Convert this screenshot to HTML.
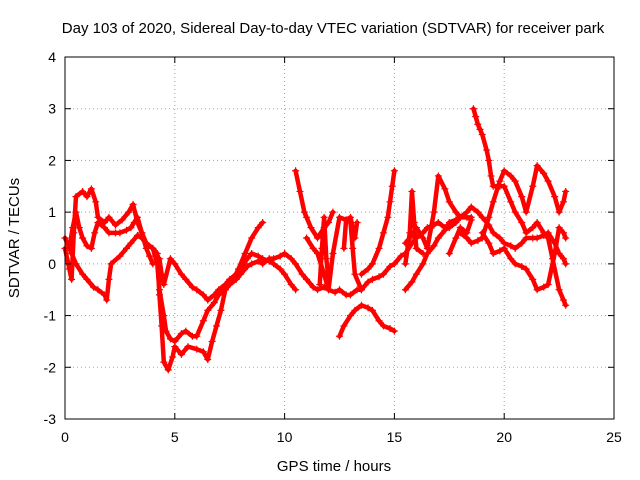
<!DOCTYPE html>
<html><head><meta charset="utf-8"><style>
html,body{margin:0;padding:0;background:#fff;}
svg{display:block;font-family:"Liberation Sans",sans-serif;}
</style></head><body>
<svg id="chart" width="640" height="480" viewBox="0 0 640 480">
<text x="333" y="33" font-size="15" text-anchor="middle" fill="#000">Day 103 of 2020, Sidereal Day-to-day VTEC variation (SDTVAR) for receiver park</text>
<text x="334" y="471" font-size="15" text-anchor="middle">GPS time / hours</text>
<text x="0" y="0" font-size="15" text-anchor="middle" transform="translate(19,238) rotate(-90)">SDTVAR / TECUs</text>
<g id="grid"></g>
<g id="series"></g>
<rect x="65" y="57" width="549" height="362" fill="none" stroke="#000" stroke-width="1"/>
<g id="ticks"></g>
</svg>
<script>
const xTicks=[0,5,10,15,20,25];
const yTicks=[-3,-2,-1,0,1,2,3,4];
const track1=[[0,0.3],[0.2,-0.1],[0.3,-0.3],[0.4,0.6],[0.5,1.3],[0.8,1.4],[1,1.3],[1.2,1.45],[1.4,1.2],[1.5,0.9],[1.8,0.8],[2,0.9],[2.3,0.75],[2.6,0.85],[2.9,1.0],[3.1,1.15],[3.3,0.8],[3.5,0.6],[3.7,0.4],[4.0,0.3],[4.2,0.2],[4.3,-0.6],[4.4,-1.2],[4.5,-1.9],[4.7,-2.05],[4.9,-1.8],[5,-1.6],[5.3,-1.75],[5.6,-1.6],[6,-1.65],[6.3,-1.7],[6.5,-1.85],[6.7,-1.5],[6.9,-1.2],[7.1,-0.9],[7.3,-0.5],[7.6,-0.35],[7.9,-0.1],[8.2,0.2],[8.5,0.5],[8.8,0.7],[9,0.8]];
const track2=[[0,0.5],[0.3,0.2],[0.5,0],[0.8,-0.2],[1,-0.3],[1.3,-0.45],[1.5,-0.5],[1.8,-0.6],[1.9,-0.7],[2.0,-0.3],[2.1,0.0],[2.5,0.15],[2.8,0.3],[3,0.4],[3.3,0.55],[3.5,0.5],[3.8,0.35],[4,0.3],[4.2,0.0],[4.3,-0.5],[4.5,-1.0],[4.6,-1.3],[4.8,-1.45],[5,-1.5],[5.3,-1.35],[5.5,-1.3],[5.8,-1.4],[6,-1.4],[6.3,-1.1],[6.5,-0.9],[6.8,-0.75],[7,-0.6],[7.3,-0.5],[7.5,-0.4],[7.8,-0.3],[8,-0.2],[8.3,-0.05],[8.5,0.0],[8.8,0.05],[9,0.0],[9.3,0.1],[9.5,0.1],[9.8,0.15],[10,0.2],[10.3,0.1],[10.5,0.0],[10.8,-0.2],[11,-0.3],[11.3,-0.45],[11.5,-0.5],[11.8,-0.45],[12,-0.5],[12.3,-0.55],[12.5,-0.5],[12.8,-0.6],[13,-0.6],[13.3,-0.5],[13.5,-0.5],[13.8,-0.35],[14,-0.3],[14.3,-0.25],[14.5,-0.2],[14.8,-0.05],[15,0.0],[15.3,0.15],[15.5,0.2],[15.8,0.4],[16,0.5],[16.3,0.6],[16.5,0.7],[16.8,0.75],[17,0.8],[17.3,0.7],[17.5,0.7],[17.8,0.8],[18,0.9]];
const track3=[[4.3,0.1],[4.4,-0.2],[4.5,-0.4],[4.8,0.1],[5,0.0],[5.3,-0.2],[5.5,-0.3],[5.8,-0.45],[6,-0.5],[6.3,-0.6],[6.5,-0.7],[6.8,-0.6],[7,-0.5],[7.3,-0.4],[7.5,-0.3],[7.8,-0.2],[8,-0.1],[8.3,0.1],[8.5,0.2],[8.8,0.15],[9,0.1],[9.3,0.05],[9.5,0.0],[9.8,-0.1],[10,-0.2],[10.3,-0.4],[10.5,-0.5]];
const track4=[[0.2,0.3],[0.35,0.7],[0.5,1.0],[0.65,0.7],[0.8,0.5],[1.0,0.35],[1.2,0.3],[1.35,0.6],[1.5,0.8],[1.8,0.7],[2,0.6],[2.3,0.6],[2.5,0.6],[2.8,0.65],[3,0.7],[3.15,0.8],[3.3,0.9],[3.5,0.6],[3.7,0.3],[3.85,0.15],[4,0.0]];
const track5=[[10.5,1.8],[10.7,1.4],[10.9,1.0],[11,0.9],[11.2,0.7],[11.5,0.5],[11.8,0.7],[12,0.8],[12.2,1.0]];
const track6=[[11,0.5],[11.3,0.3],[11.5,0.2],[11.8,-0.2],[12,-0.5],[12.2,0.2],[12.5,0.9],[12.8,0.85],[13,0.8],[13.1,0.3],[13.2,-0.2],[13.5,-0.5]];
const track7=[[12.5,-1.4],[12.7,-1.2],[13,-1.0],[13.2,-0.9],[13.5,-0.8],[13.8,-0.85],[14,-0.9],[14.3,-1.1],[14.5,-1.2],[14.8,-1.25],[15,-1.3]];
const track8=[[13.5,-0.2],[13.8,-0.1],[14,0.0],[14.3,0.3],[14.5,0.6],[14.7,0.9],[14.8,1.2],[14.9,1.5],[15,1.8]];
const track9=[[15.5,-0.5],[15.8,-0.35],[16,-0.2],[16.3,0.0],[16.5,0.2],[16.8,0.35],[17,0.5],[17.3,0.65],[17.5,0.8],[17.8,0.85],[18,0.9],[18.3,1.0],[18.5,1.1],[18.8,1.0],[19,0.9],[19.3,0.75],[19.5,0.6],[19.8,0.5],[20,0.4],[20.3,0.35],[20.5,0.3],[20.8,0.4],[21,0.5],[21.3,0.5],[21.5,0.5],[21.8,0.55],[22,0.6],[22.3,0.4],[22.5,0.2],[22.7,0.1],[22.8,0.0]];
const track10=[[15.5,0.4],[15.8,0.55],[16,0.7],[16.3,0.5],[16.5,0.3],[16.8,1.0],[17,1.7],[17.3,1.45],[17.5,1.2],[17.8,1.0],[18,0.9],[18.3,0.9],[18.5,0.9]];
const track11=[[18.6,3.0],[18.7,2.85],[18.8,2.7],[18.9,2.6],[19,2.5],[19.2,2.2],[19.3,2.0],[19.4,1.7],[19.5,1.5],[19.8,1.5],[20,1.5],[20.3,1.2],[20.5,1.0],[20.8,0.8],[21,0.6],[21.3,0.7],[21.5,0.8],[21.8,0.6],[22,0.5],[22.2,0.1],[22.5,-0.5],[22.7,-0.7],[22.8,-0.8]];
const track12=[[18,0.6],[18.3,0.5],[18.5,0.4],[18.8,0.45],[19,0.5],[19.3,0.9],[19.5,1.2],[19.8,1.6],[20,1.8],[20.3,1.7],[20.5,1.6],[20.8,1.3],[21,1.0],[21.3,1.5],[21.5,1.9],[21.8,1.75],[22,1.6],[22.3,1.3],[22.5,1.0],[22.7,1.2],[22.8,1.4]];
const track13=[[19,0.6],[19.3,0.4],[19.5,0.2],[19.8,0.25],[20,0.3],[20.3,0.1],[20.5,0.0],[20.8,-0.05],[21,-0.1],[21.3,-0.3],[21.5,-0.5],[21.8,-0.45],[22,-0.4],[22.3,0.2],[22.5,0.7],[22.7,0.6],[22.8,0.5]];
const track14=[[12.7,0.3],[12.8,0.85],[13.0,0.9],[13.2,0.5],[13.3,0.8]];
const track15=[[11.6,-0.4],[11.7,0.3],[11.8,0.9],[11.9,0.1],[12.0,-0.3]];
const track16=[[15.5,0.0],[15.7,0.6],[15.8,1.4],[15.9,0.8],[16.0,0.3],[16.3,0.2]];
const track17=[[17.5,0.2],[17.8,0.5],[18.0,0.7],[18.3,0.6],[18.5,0.85]];
const tracks=[track1,track2,track3,track4,track5,track6,track7,track8,track9,track10,track11,track12,track13,track14,track15,track16,track17];
const X0=65,X1=614,Y0=419,Y1=57;
function xs(v){return X0+(v-0)/(25-0)*(X1-X0);}
function ys(v){return Y0-(v+3)/(4+3)*(Y0-Y1);}
const NS="http://www.w3.org/2000/svg";
const grid=document.getElementById('grid'),ticks=document.getElementById('ticks'),series=document.getElementById('series');
function mk(tag,attrs,parent){const e=document.createElementNS(NS,tag);for(const k in attrs)e.setAttribute(k,attrs[k]);parent.appendChild(e);return e;}
xTicks.forEach(t=>{const x=xs(t);
 if(t>0&&t<25){const g=mk('line',{x1:x,x2:x,y1:Y1,y2:Y0,stroke:'#a0a0a0','stroke-dasharray':'1,3','stroke-width':1},grid);
 
 }
 mk('line',{x1:x,x2:x,y1:Y0,y2:Y0-6,stroke:'#000'},ticks);mk('line',{x1:x,x2:x,y1:Y1,y2:Y1+6,stroke:'#000'},ticks);
 const l=mk('text',{x:x,y:Y0+23,'font-size':14,'text-anchor':'middle'},ticks);l.textContent=t;
 
 });
yTicks.forEach(t=>{const y=ys(t);
 if(t>-3&&t<4){const g=mk('line',{x1:X0,x2:X1,y1:y,y2:y,stroke:'#a0a0a0','stroke-dasharray':'1,3','stroke-width':1},grid);
 
 }
 mk('line',{x1:X0,x2:X0+6,y1:y,y2:y,stroke:'#000'},ticks);mk('line',{x1:X1,x2:X1-6,y1:y,y2:y,stroke:'#000'},ticks);
 const l=mk('text',{x:X0-9,y:y+5,'font-size':14,'text-anchor':'end'},ticks);l.textContent=t;
 
 });
tracks.forEach((tr,i)=>{
 const p=mk('polyline',{points:tr.map(d=>xs(d[0])+','+ys(d[1])).join(' '),fill:'none',stroke:'#ff0000','stroke-width':4.5,'stroke-linejoin':'round','stroke-linecap':'round'},series);
 
 
 tr.forEach(d=>{const x=xs(d[0]),y=ys(d[1]);
  const m=mk('path',{d:`M${x-3.5},${y}H${x+3.5}M${x},${y-3.5}V${y+3.5}`,stroke:'#ff0000','stroke-width':1.2},series);
  
  });
});
</script>
</body></html>
